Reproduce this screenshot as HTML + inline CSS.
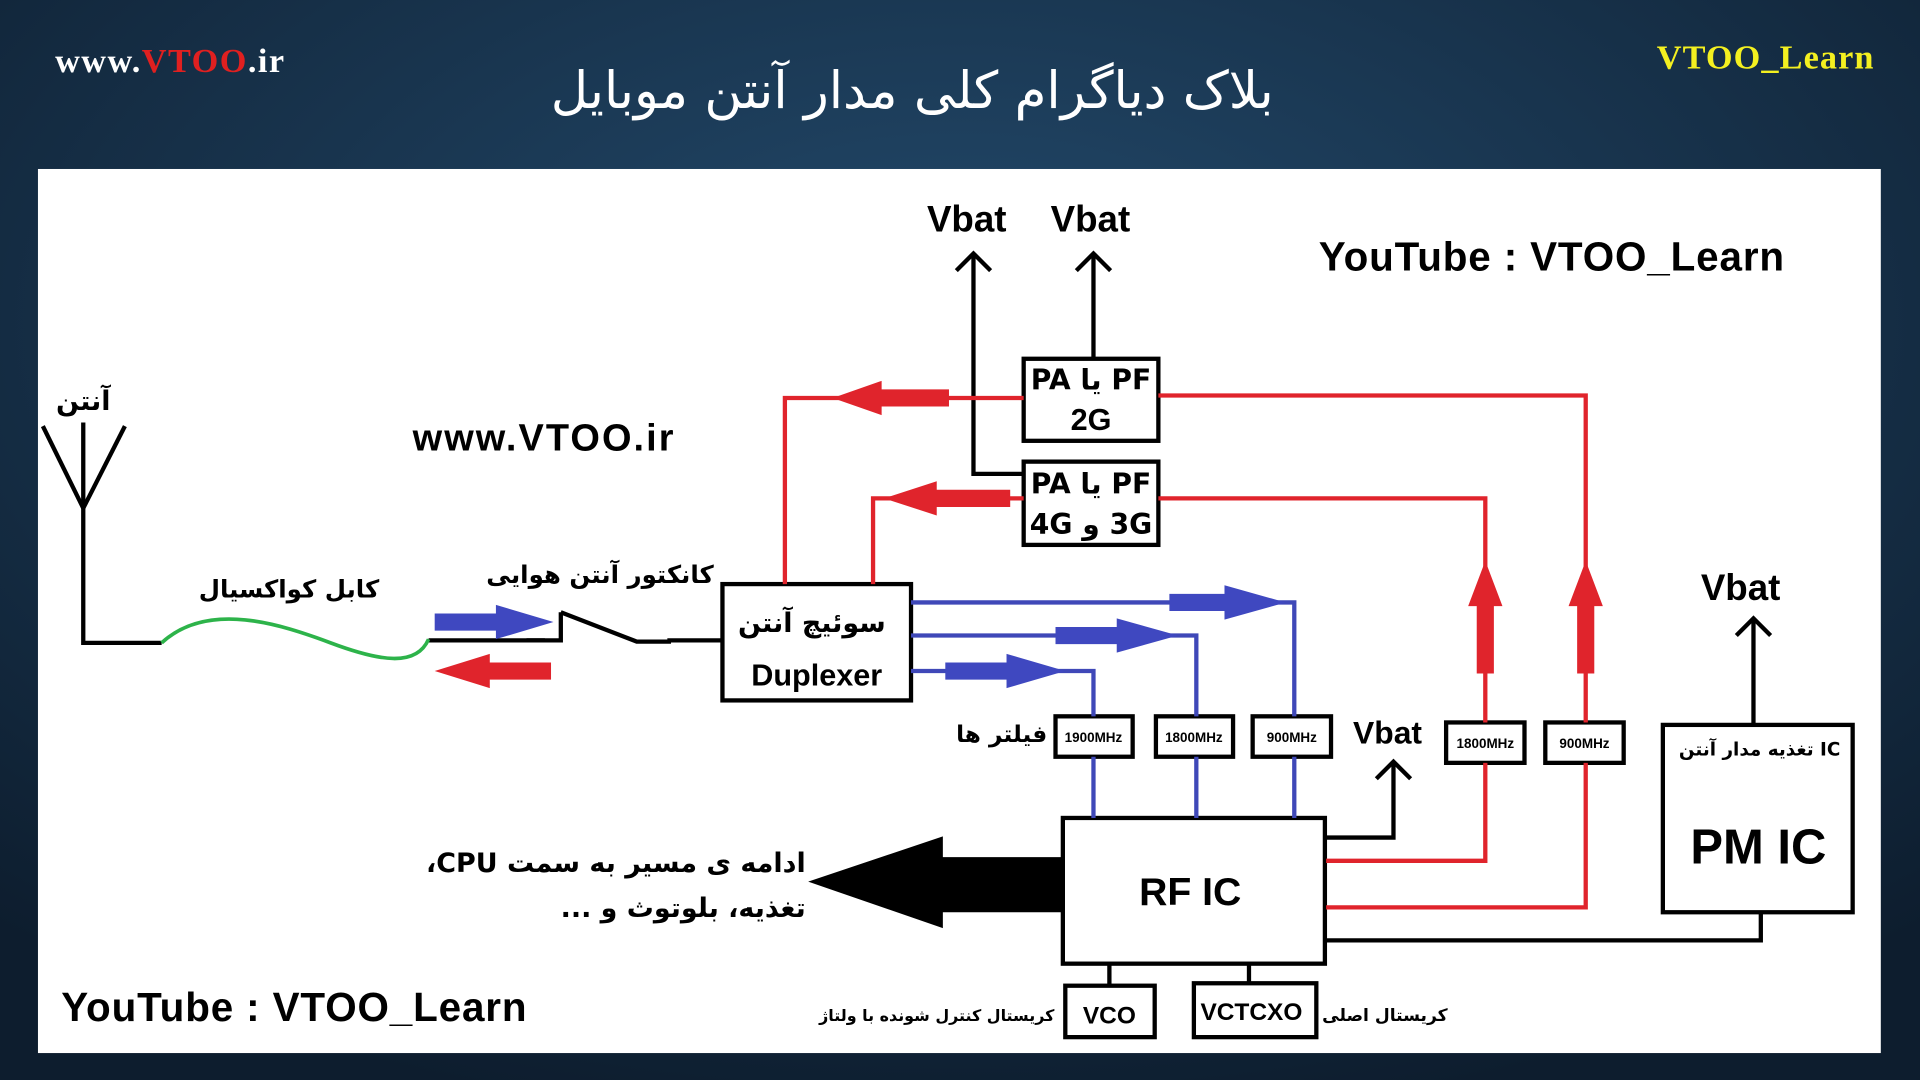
<!DOCTYPE html>
<html><head><meta charset="utf-8"><style>
html,body{margin:0;padding:0;width:1920px;height:1080px;overflow:hidden;background:#132a42}
svg{display:block}
.b{font-family:"Liberation Sans",sans-serif;font-weight:bold;fill:#000}
.f{font-family:"DejaVu Sans",sans-serif;font-weight:bold;fill:#000}
</style></head><body>
<svg width="1920" height="1080" viewBox="0 0 1568 882" preserveAspectRatio="none" xmlns="http://www.w3.org/2000/svg">
<defs><radialGradient id="bg" cx="50%" cy="30%" r="75%"><stop offset="0" stop-color="#234a6c"/><stop offset="1" stop-color="#0d1d2e"/></radialGradient></defs>
<rect width="1568" height="882" fill="url(#bg)"/>
<text x="45" y="59" font-family="Liberation Serif,serif" font-weight="bold" font-size="28" fill="#fff" textLength="187">www.<tspan fill="#e02020">VTOO</tspan>.ir</text>
<text x="1353" y="56" font-family="Liberation Serif,serif" font-weight="bold" font-size="28" fill="#f4f020" textLength="177">VTOO_Learn</text>
<text x="745" y="88" text-anchor="middle" font-family="DejaVu Sans,sans-serif" font-size="42" fill="#fff" direction="rtl">بلاک دیاگرام کلی مدار آنتن موبایل</text>
<rect x="31" y="138" width="1505" height="722" fill="#fff"/>

<g class="b">
<text x="757" y="189" font-size="30">Vbat</text>
<text x="858" y="189" font-size="30">Vbat</text>
<text x="1077" y="221" font-size="33" textLength="380">YouTube : VTOO_Learn</text>
<text x="337" y="368" font-size="31" textLength="213">www.VTOO.ir</text>
<text x="50" y="834" font-size="33" textLength="380">YouTube : VTOO_Learn</text>
<text x="1105" y="607" font-size="26">Vbat</text>
<text x="1389" y="490" font-size="30">Vbat</text>
<text x="972" y="739" font-size="32" text-anchor="middle">RF IC</text>
<text x="1436" y="705" font-size="40" text-anchor="middle">PM IC</text>
<text x="667" y="560" font-size="25" text-anchor="middle">Duplexer</text>
<text x="891" y="351" font-size="25" text-anchor="middle">2G</text>
<text x="906" y="836" font-size="20" text-anchor="middle">VCO</text>
<text x="1022" y="833" font-size="20" text-anchor="middle">VCTCXO</text>
</g>
<g class="f">
<text x="891" y="318" font-size="23" text-anchor="middle" direction="rtl">PF یا PA</text>
<text x="891" y="403" font-size="23" text-anchor="middle" direction="rtl">PF یا PA</text>
<text x="891" y="436" font-size="23" text-anchor="middle" direction="rtl">3G و 4G</text>
<text x="68" y="335" font-size="22" text-anchor="middle">آنتن</text>
<text x="236" y="488" font-size="20" text-anchor="middle" direction="rtl">کابل کواکسیال</text>
<text x="490" y="476" font-size="20" text-anchor="middle" direction="rtl">کانکتور آنتن هوایی</text>
<text x="663" y="516" font-size="22" text-anchor="middle" direction="rtl">سوئیچ آنتن</text>
<text x="818" y="606" font-size="19" text-anchor="middle" direction="rtl">فیلتر ها</text>
<text x="1437" y="617" font-size="15" text-anchor="middle" direction="rtl">IC تغذیه مدار آنتن</text>
<text x="658" y="712" font-size="22" text-anchor="start" direction="rtl">ادامه ی مسیر به سمت CPU،</text>
<text x="658" y="749" font-size="22" text-anchor="start" direction="rtl">تغذیه، بلوتوث و ...</text>
<text x="765" y="834" font-size="13" text-anchor="middle" direction="rtl">کریستال کنترل شونده با ولتاژ</text>
<text x="1131" y="834" font-size="14" text-anchor="middle" direction="rtl">کریستال اصلی</text>
</g>
<g font-family="Liberation Sans,sans-serif" font-weight="bold" font-size="11" text-anchor="middle">
<text x="893" y="606">1900MHz</text><text x="975" y="606">1800MHz</text><text x="1055" y="606">900MHz</text>
<text x="1213" y="611">1800MHz</text><text x="1294" y="611">900MHz</text>
</g>

<g fill="none" stroke="#000" stroke-width="3.5">
<rect x="836" y="293" width="110" height="67"/>
<rect x="836" y="377" width="110" height="68"/>
<rect x="590" y="477" width="154" height="95"/>
<rect x="868" y="668" width="214" height="119"/>
<rect x="1358" y="592" width="155" height="153"/>
<rect x="870" y="805" width="73" height="42"/>
<rect x="975" y="803" width="100" height="44"/>
<rect x="862" y="585" width="63" height="33"/>
<rect x="944" y="585" width="63" height="33"/>
<rect x="1023" y="585" width="64" height="33"/>
<rect x="1181" y="590" width="64" height="33"/>
<rect x="1262" y="590" width="64" height="33"/>
<polyline points="795,207 795,387 836,387"/><polyline points="781,221 795,207 809,221"/>
<polyline points="893,207 893,293"/><polyline points="879,221 893,207 907,221"/>
<polyline points="1083,684 1138,684 1138,622"/><polyline points="1124,636 1138,622 1152,636"/>
<polyline points="1432,592 1432,505"/><polyline points="1418,519 1432,505 1446,519"/>
<polyline points="1082,768 1438,768 1438,745"/>
<line x1="906" y1="787" x2="906" y2="805"/><line x1="1020" y1="787" x2="1020" y2="803"/>
<line x1="35" y1="348" x2="68" y2="415"/><line x1="102" y1="348" x2="68" y2="415"/>
<polyline points="68,345 68,525 132,525"/>
<line x1="350" y1="523" x2="445" y2="523"/>
<polyline points="430,523 458,523 458,500"/>
<polyline points="458,500 520,524 548,524"/>
<line x1="545" y1="523" x2="590" y2="523"/>
</g>
<path d="M132,525 C170,490 230,510 270,525 S340,545 350,522" fill="none" stroke="#2db34a" stroke-width="3"/>

<g fill="none" stroke="#e0242c" stroke-width="3.5">
<polyline points="836,325 641,325 641,477"/>
<polyline points="836,407 713,407 713,477"/>
<polyline points="946,323 1295,323 1295,590"/>
<polyline points="946,407 1213,407 1213,590"/>
<polyline points="1083,703 1213,703 1213,623"/>
<polyline points="1083,741 1295,741 1295,623"/>
</g>
<g fill="#e0242c">
<polygon points="775,318 720,318 720,311 680,325 720,339 720,332 775,332"/>
<polygon points="825,400 765,400 765,393 722,407 765,421 765,414 825,414"/>
<polygon points="1206,550 1206,495 1199,495 1213,458 1227,495 1220,495 1220,550"/>
<polygon points="1288,550 1288,495 1281,495 1295,458 1309,495 1302,495 1302,550"/>
<polygon points="450,541 400,541 400,534 355,548 400,562 400,555 450,555"/>
</g>
<g fill="none" stroke="#3f48b8" stroke-width="3.5">
<polyline points="744,492 1057,492 1057,585"/>
<polyline points="744,519 977,519 977,585"/>
<polyline points="744,548 893,548 893,585"/>
<line x1="893" y1="618" x2="893" y2="668"/><line x1="977" y1="618" x2="977" y2="668"/><line x1="1057" y1="618" x2="1057" y2="668"/>
</g>
<g fill="#3f48c0">
<polygon points="955,485 1000,485 1000,478 1050,492 1000,506 1000,499 955,499"/>
<polygon points="862,512 912,512 912,505 962,519 912,533 912,526 862,526"/>
<polygon points="772,541 822,541 822,534 870,548 822,562 822,555 772,555"/>
<polygon points="355,501 405,501 405,494 452,508 405,522 405,515 355,515"/>
</g>
<polygon points="868,700 770,700 770,683 660,720 770,758 770,745 868,745" fill="#000"/>
</svg>
</body></html>
